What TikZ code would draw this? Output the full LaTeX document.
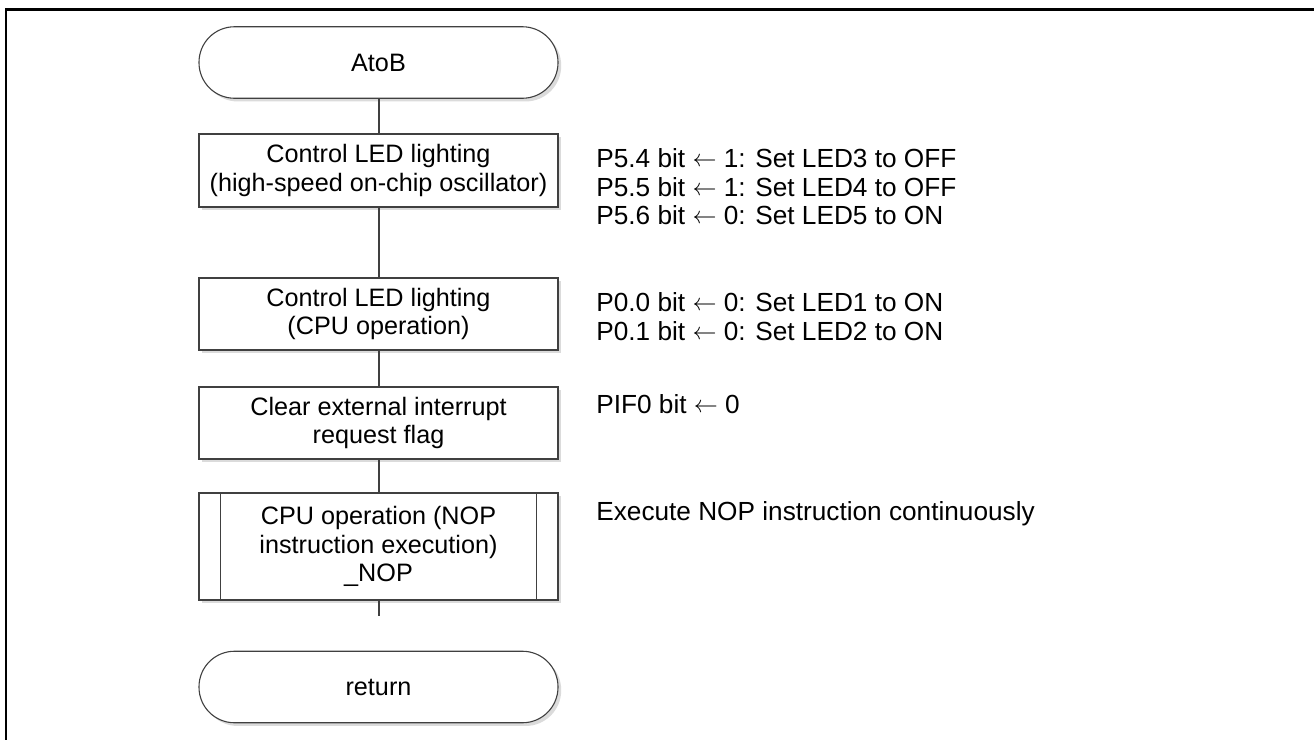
\documentclass[tikz,border=0pt]{standalone}
\usepackage{fontspec}
\setmainfont{Liberation Sans}
\usetikzlibrary{shadows}
\newcommand{\larr}{\raisebox{0.5pt}{$\leftarrow$}}
\begin{document}
\begin{tikzpicture}[x=0.5pt,y=-0.5pt,
  every node/.style={font=\fontsize{12.6}{14.2}\selectfont},
  shad/.style={drop shadow={shadow xshift=1.6pt,shadow yshift=-1.6pt,fill=black!14,opacity=1}},
  procbox/.style={draw=black!75,line width=0.55pt,fill=white,shad,minimum width=179.5pt,align=center,inner sep=0pt},
  termbox/.style={procbox,rounded corners=17.75pt,minimum height=35.75pt},
  note/.style={anchor=west,align=left,inner sep=0pt,font=\fontsize{13.1}{14.2}\selectfont},
  conn/.style={draw=black!75,line width=1pt}]
\useasboundingbox (0,0) rectangle (1314,740);
\draw[line width=1.2pt] (6.2,740) -- (6.2,9.5) -- (1314,9.5);

\node[termbox] (start) at (378.5,62.5) {AtoB};
\node[procbox,minimum height=36.5pt] (b1) at (378.5,170.5) {Control LED lighting\\(high-speed on-chip oscillator)};
\node[procbox,minimum height=36pt] (b2) at (378.5,314) {Control LED lighting\\(CPU operation)};
\node[procbox,minimum height=36pt] (b3) at (378.5,423) {Clear external interrupt\\request flag};
\node[procbox,minimum height=53.5pt] (b4) at (378.5,546.5) {CPU operation (NOP\\instruction execution)\\\_NOP};
\draw[black!75,line width=0.55pt] ([xshift=11pt]b4.north west) -- ([xshift=11pt]b4.south west);
\draw[black!75,line width=0.55pt] ([xshift=-11pt]b4.north east) -- ([xshift=-11pt]b4.south east);
\node[termbox] (ret) at (378.5,687) {return};
\coordinate (stub) at (378.5,616);

\draw[conn] (start.south) -- (b1.north);
\draw[conn] (b1.south) -- (b2.north);
\draw[conn] (b2.south) -- (b3.north);
\draw[conn] (b3.south) -- (b4.north);
\draw[conn] (b4.south) -- (stub);

\node[note] (n1) at (596,187) {P5.4 bit \larr\ 1: Set LED3 to OFF\\P5.5 bit \larr\ 1: Set LED4 to OFF\\P5.6 bit \larr\ 0: Set LED5 to ON};
\node[note] (n2) at (596,316.5) {P0.0 bit \larr\ 0: Set LED1 to ON\\P0.1 bit \larr\ 0: Set LED2 to ON};
\node[note] (n3) at (596,404) {PIF0 bit \larr\ 0};
\node[note] (n4) at (596,514) {Execute NOP instruction continuously};
\end{tikzpicture}
\end{document}
